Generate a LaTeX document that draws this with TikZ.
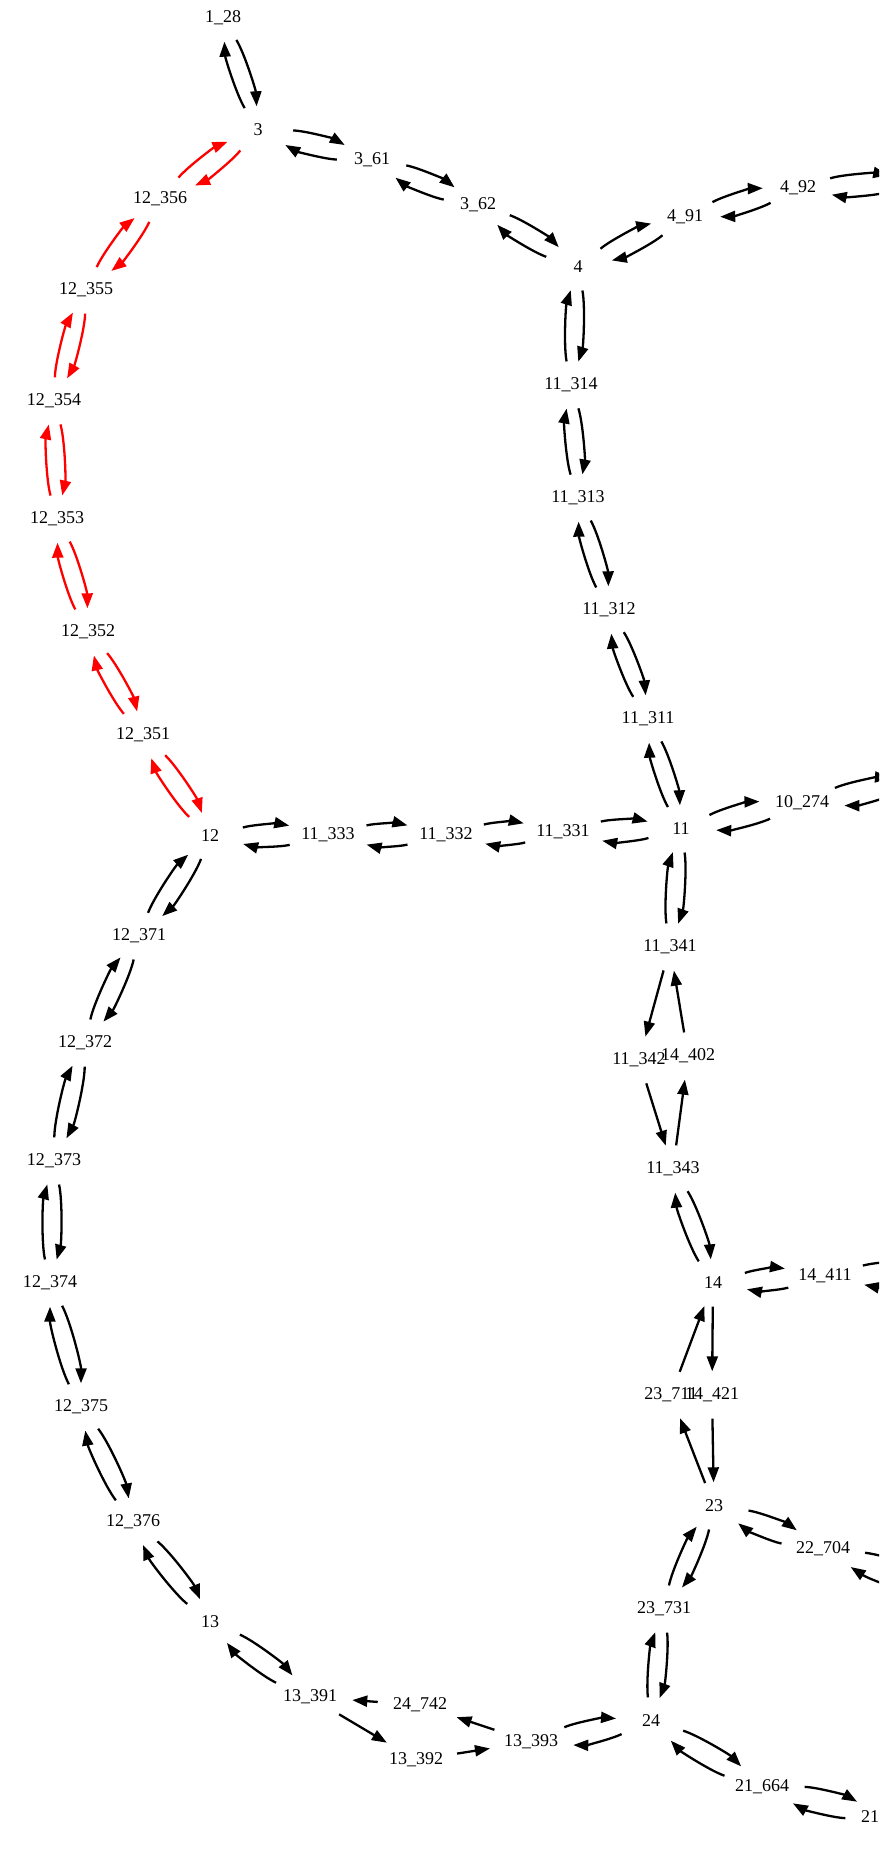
\documentclass[tikz,border=0pt]{standalone}
\usepackage{fontspec}
\setmainfont{Liberation Serif}
\usetikzlibrary{shapes.geometric,arrows.meta}
\tikzset{
  nd/.style={ellipse, minimum width=70pt, minimum height=47pt, inner sep=3pt, font=\fontsize{18}{20}\selectfont},
  ed/.style={-{Triangle[length=15pt,width=11pt]}, line width=2.3pt},
  pr/.style={ed, bend left=14, looseness=0.6},
  sg/.style={ed},
  rd/.style={red}
}
\begin{document}
\begin{tikzpicture}[x=1pt,y=-1pt]
\useasboundingbox (0,0) rectangle (879,1851);
\fill[white] (0,0) rectangle (879,1851);
\clip (0,0) rectangle (879,1851);
% nodes
\node[nd] (n1x28) at (223,18) {1\_28};
\node[nd] (n3) at (258,130) {3};
\node[nd] (n3x61) at (372,160) {3\_61};
\node[nd] (n3x62) at (478,205) {3\_62};
\node[nd] (n4) at (578,267) {4};
\node[nd] (n4x91) at (685,217) {4\_91};
\node[nd] (n4x92) at (798,188) {4\_92};
\node[nd] (r1) at (922,182) {};
\node[nd] (n12x356) at (160,199) {12\_356};
\node[nd] (n12x355) at (86,290) {12\_355};
\node[nd] (n12x354) at (54,401) {12\_354};
\node[nd] (n12x353) at (57,519) {12\_353};
\node[nd] (n12x352) at (88,632) {12\_352};
\node[nd] (n12x351) at (143,735) {12\_351};
\node[nd] (n12) at (210,836) {12};
\node[nd] (n11x333) at (328,835) {11\_333};
\node[nd] (n11x332) at (446,835) {11\_332};
\node[nd] (n11x331) at (563,832) {11\_331};
\node[nd] (n11) at (681,829) {11};
\node[nd] (n10x274) at (802,803) {10\_274};
\node[nd] (r2) at (925,780) {};
\node[nd] (n11x314) at (571,385) {11\_314};
\node[nd] (n11x313) at (578,498) {11\_313};
\node[nd] (n11x312) at (609,610) {11\_312};
\node[nd] (n11x311) at (648,719) {11\_311};
\node[nd] (n11x341) at (670,947) {11\_341};
\node[nd] (n11x342) at (639,1060) {11\_342};
\node[nd] (n14x402) at (688,1056) {14\_402};
\node[nd] (n11x343) at (673,1169) {11\_343};
\node[nd] (n14) at (713,1283) {14};
\node[nd] (n14x411) at (825,1276) {14\_411};
\node[nd] (r3) at (985,1272) {};
\node[nd] (n23x711) at (671,1395) {23\_711};
\node[nd] (n14x421) at (712,1395) {14\_421};
\node[nd] (n23) at (714,1506) {23};
\node[nd] (n22x704) at (823,1549) {22\_704};
\node[nd] (r4) at (985,1605) {};
\node[nd] (n23x731) at (664,1609) {23\_731};
\node[nd] (n24) at (651,1721) {24};
\node[nd] (n13x393) at (531,1742) {13\_393};
\node[nd] (n21x664) at (762,1787) {21\_664};
\node[nd] (n21) at (888,1818) {21\phantom{\_664}};
\node[nd] (n12x371) at (139,936) {12\_371};
\node[nd] (n12x372) at (85,1043) {12\_372};
\node[nd] (n12x373) at (54,1161) {12\_373};
\node[nd] (n12x374) at (50,1283) {12\_374};
\node[nd] (n12x375) at (81,1407) {12\_375};
\node[nd] (n12x376) at (133,1522) {12\_376};
\node[nd] (n13) at (210,1622) {13};
\node[nd] (n13x391) at (310,1697) {13\_391};
\node[nd] (n24x742) at (420,1705) {24\_742};
\node[nd] (n13x392) at (416,1760) {13\_392};
% red pairs
\foreach \a/\b in {n3/n12x356, n12x356/n12x355, n12x355/n12x354, n12x354/n12x353, n12x353/n12x352, n12x352/n12x351, n12x351/n12}{
  \draw[pr,rd] (\a) to (\b);
  \draw[pr,rd] (\b) to (\a);
}
% black pairs
\foreach \a/\b in {n1x28/n3, n3/n3x61, n3x61/n3x62, n3x62/n4, n4/n4x91, n4x91/n4x92, n4x92/r1,
  n4/n11x314, n11x314/n11x313, n11x313/n11x312, n11x312/n11x311, n11x311/n11,
  n11/n10x274, n10x274/r2, n12/n11x333, n11x333/n11x332, n11x332/n11x331, n11x331/n11,
  n11/n11x341, n11x343/n14, n14/n14x411, n14x411/r3, n23/n22x704, n22x704/r4,
  n23/n23x731, n23x731/n24, n24/n13x393, n24/n21x664, n21x664/n21,
  n12/n12x371, n12x371/n12x372, n12x372/n12x373, n12x373/n12x374, n12x374/n12x375,
  n12x375/n12x376, n12x376/n13, n13/n13x391}{
  \draw[pr] (\a) to (\b);
  \draw[pr] (\b) to (\a);
}
% single edges
\foreach \a/\b in {n11x341/n11x342, n11x342/n11x343, n11x343/n14x402, n14x402/n11x341,
  n14/n14x421, n14x421/n23, n23/n23x711, n23x711/n14,
  n13x391/n13x392, n13x392/n13x393, n13x393/n24x742, n24x742/n13x391}{
  \draw[sg] (\a) -- (\b);
}
\end{tikzpicture}
\end{document}
